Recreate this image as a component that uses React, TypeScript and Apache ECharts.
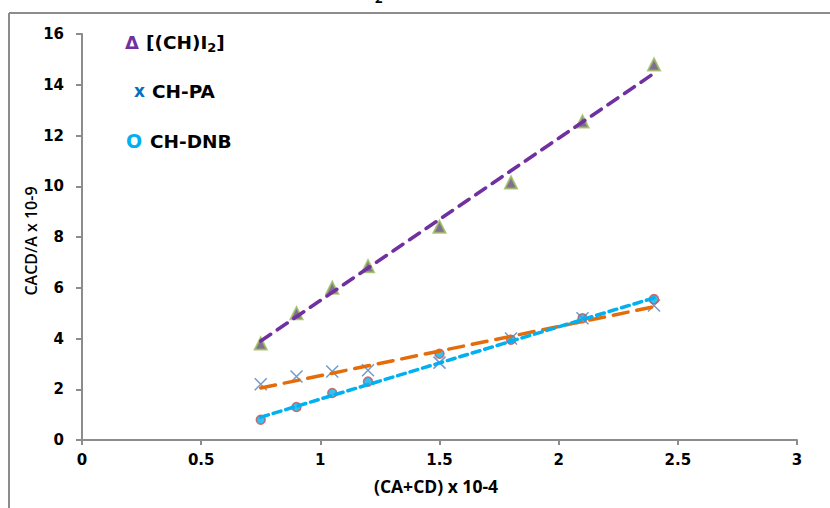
import React, { useEffect, useRef } from "react";
import * as echarts from "echarts";

const xValues = [0.75, 0.9, 1.05, 1.2, 1.5, 1.8, 2.1, 2.4];
const chI2 = [3.8, 5.0, 6.0, 6.85, 8.4, 10.15, 12.55, 14.8];
const chPA = [2.2, 2.5, 2.7, 2.75, 3.05, 4.0, 4.8, 5.3];
const chDNB = [0.8, 1.3, 1.85, 2.3, 3.4, 3.95, 4.8, 5.55];
const trendX = [0.75, 2.4];
const trendI2 = [3.9, 14.45];
const trendPA = [2.05, 5.25];
const trendDNB = [0.9, 5.6];
const xTicks = [0, 0.5, 1, 1.5, 2, 2.5, 3];
const yTicks = [0, 2, 4, 6, 8, 10, 12, 14, 16];
const legendLabels = ["[(CH)I", "CH-PA", "CH-DNB"];
const xTitle = "(CA+CD) x 10-4";
const yTitle = "CACD/A x 10-9";

const pairs = (xs: number[], ys: number[]) => xs.map((x, i) => [x, ys[i]]);

export default function App() {
  const ref = useRef<HTMLDivElement>(null);
  useEffect(() => {
    const chart = echarts.init(ref.current!, null, { renderer: "svg" });
    const tickFont = { fontFamily: "DejaVu Sans", fontWeight: "bold" as const, fontSize: 15, color: "#000" };
    const legFont = "bold 18.5px 'DejaVu Sans'";
    chart.setOption({
      animation: false,
      backgroundColor: "#fff",
      grid: { left: 82, right: 33, top: 34, bottom: 68 },
      xAxis: {
        type: "value",
        min: xTicks[0],
        max: xTicks[xTicks.length - 1],
        interval: 0.5,
        splitLine: { show: false },
        axisLine: { show: true, lineStyle: { color: "#8c8c8c", width: 2 } },
        axisTick: { show: true, inside: false, length: 5, lineStyle: { color: "#8c8c8c", width: 2 } },
        axisLabel: { ...tickFont, margin: 12, formatter: (v: number) => String(v) },
      },
      yAxis: {
        type: "value",
        min: yTicks[0],
        max: yTicks[yTicks.length - 1],
        interval: 2,
        splitLine: { show: false },
        axisLine: { show: true, lineStyle: { color: "#8c8c8c", width: 2 } },
        axisTick: { show: true, inside: false, length: 6, lineStyle: { color: "#8c8c8c", width: 2 } },
        axisLabel: { ...tickFont, margin: 18 },
      },
      series: [
        {
          type: "scatter",
          data: pairs(xValues, chI2),
          symbol: "triangle",
          symbolSize: 12,
          itemStyle: { color: "#604a7b", borderColor: "#9bbb59", borderWidth: 2 },
          z: 2,
        },
        {
          type: "scatter",
          data: pairs(xValues, chPA),
          symbol: "path://M0,0L10,10M10,0L0,10",
          symbolSize: 12,
          itemStyle: { color: "none", borderColor: "#4f81bd", borderWidth: 1.5 },
          z: 2,
        },
        {
          type: "scatter",
          data: pairs(xValues, chDNB),
          symbol: "circle",
          symbolSize: 9,
          itemStyle: { color: "#00b0f0", borderColor: "#d05050", borderWidth: 1.5 },
          z: 2,
        },
        {
          type: "line",
          data: pairs(trendX, trendI2),
          showSymbol: false,
          symbol: "none",
          lineStyle: { color: "#7030a0", width: 3.5, type: [12, 8], cap: "round" },
          z: 5,
        },
        {
          type: "line",
          data: pairs(trendX, trendPA),
          showSymbol: false,
          symbol: "none",
          lineStyle: { color: "#e46c0a", width: 3.5, type: [15, 9], cap: "round" },
          z: 5,
        },
        {
          type: "line",
          data: pairs(trendX, trendDNB),
          showSymbol: false,
          symbol: "none",
          lineStyle: { color: "#00b0f0", width: 3.5, type: [8, 5], cap: "round" },
          z: 6,
        },
      ],
      graphic: [
        { type: "line", shape: { x1: 9, y1: 13, x2: 830, y2: 13 }, style: { stroke: "#8c8c8c", lineWidth: 2 } },
        { type: "line", shape: { x1: 9, y1: 13, x2: 9, y2: 508 }, style: { stroke: "#8c8c8c", lineWidth: 2 } },
        {
          type: "text",
          x: 375,
          y: -9,
          style: { text: "2", font: "bold 13px 'Open Sans'", fill: "#000" },
        },
        // legend symbols
        { type: "text", x: 125, y: 42, style: { text: "Δ", verticalAlign: "middle", font: "bold 18px 'DejaVu Sans'", fill: "#7030a0" } },
        { type: "text", x: 134, y: 91, style: { text: "x", verticalAlign: "middle", font: "bold 17px 'DejaVu Sans'", fill: "#0070c0" } },
        { type: "text", x: 126, y: 141, style: { text: "O", verticalAlign: "middle", font: "bold 19px 'DejaVu Sans'", fill: "#00b0f0" } },
        // legend labels
        {
          type: "text",
          x: 146,
          y: 42,
          style: {
            text: "{t|" + legendLabels[0] + "}{sub|2}{t|]}",
            verticalAlign: "middle",
            rich: {
              t: { fill: "#000", font: legFont },
              sub: { fill: "#000", font: "bold 13px 'DejaVu Sans'", padding: [10, 0, 0, 0] },
            },
          },
        },
        { type: "text", x: 152, y: 91, style: { text: legendLabels[1], verticalAlign: "middle", font: legFont, fill: "#000" } },
        { type: "text", x: 150, y: 141, style: { text: legendLabels[2], verticalAlign: "middle", font: legFont, fill: "#000" } },
        {
          type: "text",
          x: 436,
          y: 486,
          style: {
            text: xTitle,
            align: "center",
            verticalAlign: "middle",
            font: "bold 17.5px 'Open Sans'",
            fill: "#000",
          },
        },
        {
          type: "text",
          x: 31,
          y: 241,
          rotation: Math.PI / 2,
          style: {
            text: yTitle,
            align: "center",
            verticalAlign: "middle",
            font: "600 16px 'Open Sans'",
            fill: "#000",
          },
        },
      ],
    });
    return () => chart.dispose();
  }, []);
  return (
    <div
      ref={ref}
      style={{ position: "fixed", left: 0, top: 0, width: 830, height: 508 }}
    />
  );
}
